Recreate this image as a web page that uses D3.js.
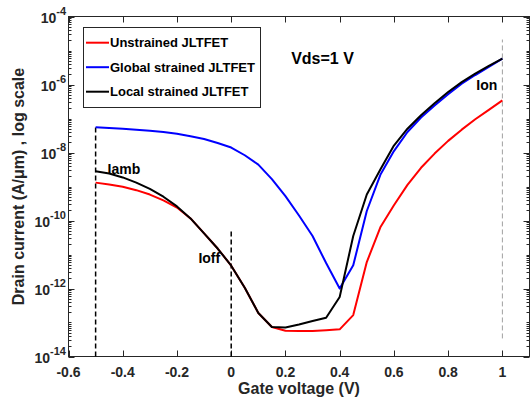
<!DOCTYPE html>
<meta charset="utf-8">
<style>
  body { margin: 0; background: #fff; }
  text { font-family: "Liberation Sans", Arial, sans-serif; font-weight: bold; fill: #262626; }
</style>
<body>
<script src="https://d3js.org/d3.v7.min.js"></script>
<script>

// gate voltage (V)
var vg = [-0.5, -0.45, -0.4, -0.35, -0.3, -0.25, -0.2, -0.15, -0.1, -0.05, 0,
          0.05, 0.1, 0.15, 0.2, 0.25, 0.3, 0.35, 0.4, 0.45, 0.5,
          0.55, 0.6, 0.65, 0.7, 0.75, 0.8, 0.85, 0.9, 0.95, 1];

// drain current (A/um)
var iUnstrained = [1.3e-9, 1.15e-9, 9.8e-10, 7.8e-10, 5.8e-10, 3.9e-10, 2.4e-10, 1.15e-10, 4.2e-11, 1.5e-11, 4.7e-12,
                   1.05e-12, 1.9e-13, 7.4e-14, 5.75e-14, 5.6e-14, 5.6e-14, 5.9e-14, 6.3e-14, 1.65e-13, 6.0e-12,
                   6.3e-11, 2.8e-10, 1.12e-9, 3.55e-9, 9.3e-9, 2.2e-8, 4.7e-8, 9.5e-8, 1.8e-7, 3.4e-7];
var iGlobal = [5.5e-8, 5.25e-8, 5.0e-8, 4.7e-8, 4.35e-8, 4.0e-8, 3.55e-8, 3.0e-8, 2.5e-8, 1.9e-8, 1.4e-8,
               8.3e-9, 4.4e-9, 1.65e-9, 5.2e-10, 1.4e-10, 3.5e-11, 5.6e-12, 1.0e-12, 4.8e-12, 1.9e-10,
               2.2e-9, 1.1e-8, 4.0e-8, 1.07e-7, 2.4e-7, 5.2e-7, 1.05e-6, 1.9e-6, 3.3e-6, 5.75e-6];
var iLocal = [2.8e-9, 2.4e-9, 1.85e-9, 1.3e-9, 8.5e-10, 5.0e-10, 2.6e-10, 1.15e-10, 4.2e-11, 1.5e-11, 4.7e-12,
              1.05e-12, 1.9e-13, 7.4e-14, 7.1e-14, 8.7e-14, 1.1e-13, 1.38e-13, 5.6e-13, 3.5e-11, 5.8e-10,
              3.15e-9, 1.6e-8, 5.0e-8, 1.25e-7, 2.8e-7, 6.0e-7, 1.17e-6, 2.1e-6, 3.55e-6, 5.75e-6];

var seriesNames = ["Unstrained JLTFET", "Global strained JLTFET", "Local strained JLTFET"];
var seriesColors = ["#ff0000", "#0000ff", "#000000"];

var xTicks = [-0.6, -0.4, -0.2, 0, 0.2, 0.4, 0.6, 0.8, 1];
var yTickExps = [-4, -6, -8, -10, -12, -14];

// dashed marker lines (Vg, current bottom, current top)
var markX = [-0.5, 0, 1];
var markBottom = [1e-14, 1e-14, 3.4e-14];
var markTop = [5.5e-8, 5.5e-11, 2.1e-5];

// annotations
var noteText = ["Iamb", "Ioff", "Ion", "Vds=1 V"];
var noteX = [-0.456, -0.121, 0.904, 0.221];
var noteY = [2.4e-9, 5.5e-12, 7.1e-7, 3.9e-6];

var pL = 68.5, pR = 529.5, pT = 16.5, pB = 356.5;
var axisColor = "#262626";

var svg = d3.select("body").append("svg")
    .attr("width", 530)
    .attr("height", 397);

var x = d3.scaleLinear().domain([-0.6, 1.1]).range([pL, pR]);
var y = d3.scaleLog().domain([1e-14, 1e-4]).range([pB, pT]);

// minor ticks on the log axis
var minor = [];
for (var e = -14; e < -4; e++) {
  for (var k = 1; k < 10; k++) {
    if (k == 1 && e % 2 == 0) continue;
    minor.push(k * Math.pow(10, e));
  }
}

var g = svg.append("g");

function yPix(d) { return Math.round(y(d)) + 0.5; }
function xPix(d) { return Math.round(x(d)) + 0.5; }

g.selectAll(".minorL")
    .data(minor)
  .enter().append("line")
    .attr("x1", pL).attr("x2", pL + 3)
    .attr("y1", yPix).attr("y2", yPix)
    .attr("stroke", axisColor);

g.selectAll(".minorR")
    .data(minor)
  .enter().append("line")
    .attr("x1", pR).attr("x2", pR - 3)
    .attr("y1", yPix).attr("y2", yPix)
    .attr("stroke", axisColor);

var majorY = yTickExps.map(function(d) { return Math.pow(10, d); });

g.selectAll(".majorL")
    .data(majorY)
  .enter().append("line")
    .attr("x1", pL).attr("x2", pL + 6)
    .attr("y1", yPix).attr("y2", yPix)
    .attr("stroke", axisColor);

g.selectAll(".majorR")
    .data(majorY)
  .enter().append("line")
    .attr("x1", pR).attr("x2", pR - 6)
    .attr("y1", yPix).attr("y2", yPix)
    .attr("stroke", axisColor);

// x ticks, bottom and top, pointing inward
g.selectAll(".xb")
    .data(xTicks)
  .enter().append("line")
    .attr("x1", xPix).attr("x2", xPix)
    .attr("y1", pB).attr("y2", pB - 6)
    .attr("stroke", axisColor);

g.selectAll(".xt")
    .data(xTicks)
  .enter().append("line")
    .attr("x1", xPix).attr("x2", xPix)
    .attr("y1", pT).attr("y2", pT + 6)
    .attr("stroke", axisColor);

// box
svg.append("rect")
    .attr("x", pL).attr("y", pT)
    .attr("width", pR - pL).attr("height", pB - pT)
    .attr("fill", "none")
    .attr("stroke", axisColor);

// tick labels
svg.selectAll(".xlab")
    .data(xTicks)
  .enter().append("text")
    .attr("x", function(d) { return x(d); })
    .attr("y", pB + 20)
    .attr("text-anchor", "middle")
    .style("font-size", "14px")
    .text(function(d) { return String(d); });

var ylab = svg.selectAll(".ylab")
    .data(yTickExps)
  .enter().append("text")
    .attr("x", 66)
    .attr("y", function(d) { return y(Math.pow(10, d)) + 6; })
    .attr("text-anchor", "end")
    .style("font-size", "14px");
ylab.append("tspan").text("10");
ylab.append("tspan")
    .attr("dy", -8)
    .style("font-size", "11px")
    .text(function(d) { return "-" + Math.abs(d); });

// axis titles
svg.append("text")
    .attr("x", (pL + pR) / 2)
    .attr("y", 394)
    .attr("text-anchor", "middle")
    .style("font-size", "16px")
    .text("Gate voltage (V)");

svg.append("text")
    .attr("transform", "translate(24," + (pT + pB) / 2 + ") rotate(-90)")
    .attr("text-anchor", "middle")
    .style("font-size", "16px")
    .text("Drain current (A/\u03bcm) , log scale");

// dashed markers
svg.selectAll(".mark")
    .data(markX)
  .enter().append("line")
    .attr("x1", function(d) { return x(d); })
    .attr("x2", function(d) { return x(d); })
    .attr("y1", function(d, i) { return y(markBottom[i]); })
    .attr("y2", function(d, i) { return y(markTop[i]); })
    .attr("stroke", function(d, i) { return i == 2 ? "#a0a0a0" : "#000"; })
    .attr("stroke-width", function(d, i) { return i == 2 ? 1 : 1.5; })
    .attr("stroke-dasharray", "5,3");

// curves
var line = d3.line()
    .x(function(d) { return x(d[0]); })
    .y(function(d) { return y(d[1]); });

[iUnstrained, iGlobal, iLocal].forEach(function(s, i) {
  svg.append("path")
      .datum(vg.map(function(v, j) { return [v, s[j]]; }))
      .attr("fill", "none")
      .attr("stroke", seriesColors[i])
      .attr("stroke-width", 2)
      .attr("stroke-linejoin", "round")
      .attr("d", line);
});

// annotations
svg.selectAll(".note")
    .data(noteText)
  .enter().append("text")
    .attr("x", function(d, i) { return x(noteX[i]); })
    .attr("y", function(d, i) { return y(noteY[i]); })
    .style("font-size", function(d, i) { return i == 3 ? "16px" : "14px"; })
    .style("fill", "#000")
    .text(function(d) { return d; });

// legend
var legend = svg.append("g");
legend.append("rect")
    .attr("x", 83.5).attr("y", 27.5)
    .attr("width", 177).attr("height", 80)
    .attr("fill", "#fff")
    .attr("stroke", axisColor);

var rows = legend.selectAll(".row")
    .data(seriesNames)
  .enter().append("g")
    .attr("transform", function(d, i) { return "translate(0," + (42.7 + i * 24.5) + ")"; });
rows.append("line")
    .attr("x1", 86).attr("x2", 109)
    .attr("stroke", function(d, i) { return seriesColors[i]; })
    .attr("stroke-width", 2);
rows.append("text")
    .attr("x", 110)
    .attr("y", 4.5)
    .style("font-size", "13px")
    .style("fill", "#000")
    .text(function(d) { return d; });

</script>
</body>
